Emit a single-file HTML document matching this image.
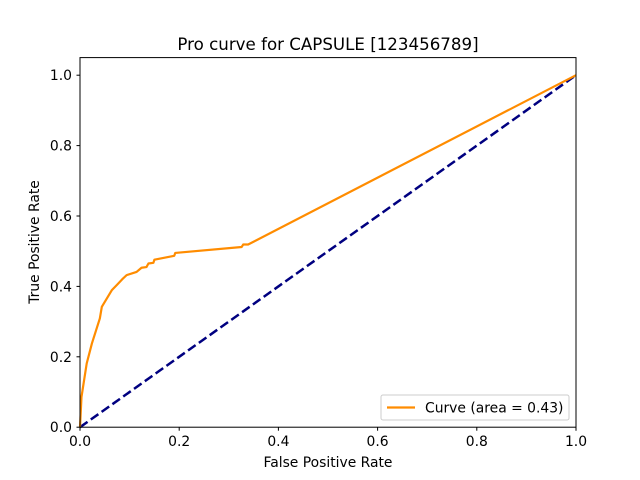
<!DOCTYPE html>
<html><head><meta charset="utf-8"><style>
body{margin:0;background:#fff}
svg{display:block;font-family:"DejaVu Sans","Liberation Sans",sans-serif}
</style></head><body>
<svg id="chart" width="640" height="480">
<rect width="640" height="480" fill="#fff"/>
<text x="328" y="50" text-anchor="middle" font-size="16.67">Pro curve for CAPSULE [123456789]</text>
<g id="plot"></g>
<rect x="80" y="57.6" width="496" height="369.6" fill="none" stroke="#000" stroke-width="1"/>
<text x="328" y="467" text-anchor="middle" font-size="13.89">False Positive Rate</text>
<text transform="translate(39,242) rotate(-90)" text-anchor="middle" font-size="13.89">True Positive Rate</text>
<g>
<rect x="381" y="395" width="188" height="25" rx="2" fill="#fff" stroke="#ccc"/>
<line x1="387" y1="407.5" x2="415" y2="407.5" stroke="#ff8c00" stroke-width="2.2"/>
<text x="425" y="412.5" font-size="13.89">Curve (area = 0.43)</text>
</g>
</svg>
<script>
const xTicks=[0,0.2,0.4,0.6,0.8,1.0];
const yTicks=[0,0.2,0.4,0.6,0.8,1.0];
const fpr=[0,0.003,0.0135,0.024,0.04,0.044,0.064,0.075,0.085,0.094,0.114,0.124,0.134,0.138,0.148,0.15,0.19,0.192,0.326,0.329,0.339,1];
const tpr=[0,0.086,0.181,0.238,0.309,0.342,0.389,0.405,0.42,0.432,0.441,0.453,0.455,0.465,0.467,0.476,0.487,0.495,0.512,0.519,0.519,1];
const diagX=[0,1];
const diagY=[0,1];
const X=v=>80+v*496;
const Y=v=>427.2-v*352;
const ns="http://www.w3.org/2000/svg";
const svg=document.getElementById('chart');
const plot=document.getElementById('plot');
function mk(t,a,p){const e=document.createElementNS(ns,t);for(const k in a)e.setAttribute(k,a[k]);(p||svg).appendChild(e);return e;}
xTicks.forEach(v=>{
  const l=mk('line',{x1:X(v),x2:X(v),y1:427.2,y2:430.7,stroke:'#000'});
  
  
  const t=mk('text',{x:X(v),y:446,'text-anchor':'middle','font-size':13.89});
  t.textContent=v.toFixed(1);
  
  
});
yTicks.forEach(v=>{
  const l=mk('line',{x1:76.5,x2:80,y1:Y(v),y2:Y(v),stroke:'#000'});
  
  
  const t=mk('text',{x:72,y:Y(v)+5,'text-anchor':'end','font-size':13.89});
  t.textContent=v.toFixed(1);
  
  
});
const d=mk('polyline',{points:diagX.map((v,i)=>X(v)+','+Y(diagY[i])).join(' '),fill:'none',stroke:'#000080','stroke-width':2.5,'stroke-dasharray':'9.25,4'},plot);


const c=mk('polyline',{points:fpr.map((v,i)=>X(v)+','+Y(tpr[i])).join(' '),fill:'none',stroke:'#ff8c00','stroke-width':2.2,'stroke-linejoin':'round'},plot);


</script>
</body></html>
